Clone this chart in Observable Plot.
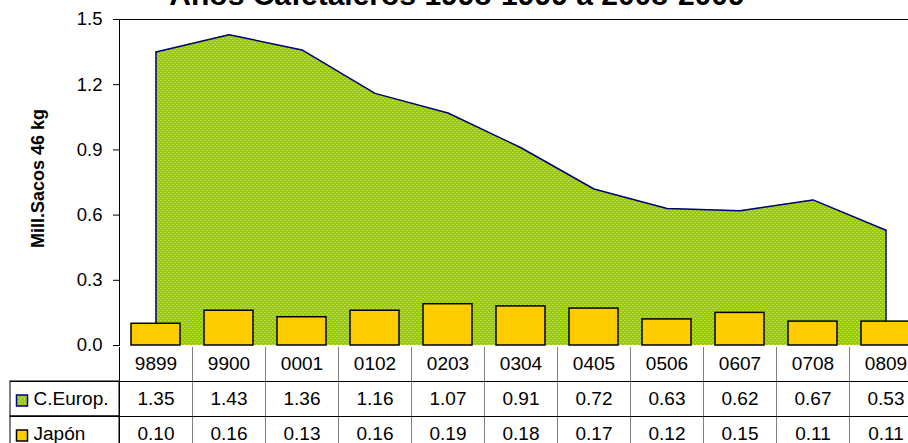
<!DOCTYPE html>
<html><head><meta charset="utf-8">
<script src="https://cdn.jsdelivr.net/npm/d3@7"></script>
<script src="https://cdn.jsdelivr.net/npm/@observablehq/plot@0.6"></script>
<style>
html,body{margin:0;padding:0;background:#fff;}
#wrap{position:relative;width:908px;height:443px;overflow:hidden;font-family:"Liberation Sans",Arial,sans-serif;}
#title{position:absolute;left:0;top:-20px;width:914px;text-align:center;font-weight:bold;font-size:30px;line-height:30px;white-space:nowrap;color:#000;}
#chart{position:absolute;left:0;top:0;}
#table{position:absolute;left:0;top:347px;}
#chart [aria-label^="y-axis"] text{font-size:18.5px;}
</style></head><body>
<div id="wrap"><div id="chart"></div><div id="table"></div><div id="title"></div></div>
<script>
const title = "Años Cafetaleros 1998-1999 a 2008-2009";
const yLabel = "Mill.Sacos 46 kg";
const categories = ["9899","9900","0001","0102","0203","0304","0405","0506","0607","0708","0809"];
const seriesNames = ["C.Europ.", "Japón"];
const europa = [1.35, 1.43, 1.36, 1.16, 1.07, 0.91, 0.72, 0.63, 0.62, 0.67, 0.53];
const japon  = [0.10, 0.16, 0.13, 0.16, 0.19, 0.18, 0.17, 0.12, 0.15, 0.11, 0.11];
const yTicks = [0, 0.3, 0.6, 0.9, 1.2, 1.5];

document.getElementById("title").textContent = title;

const font = '"Liberation Sans", Arial, sans-serif';
const data = categories.map((c, i) => ({cat: c, eu: europa[i], jp: japon[i]}));
const xRange = [119, 922];
const step = (xRange[1] - xRange[0]) / categories.length;
const green = "#99CC00", yellow = "#FFCC00", navy = "#000080";

const chart = Plot.plot({
  width: 908, height: 347, marginLeft: 119, marginRight: 0, marginTop: 19, marginBottom: 2,
  style: {fontFamily: font, fontSize: "18.5px", background: "transparent", color: "#000", overflow: "visible"},
  x: {type: "band", domain: categories, range: xRange, padding: 0, axis: null},
  y: {domain: [0, yTicks[yTicks.length - 1]], ticks: yTicks, tickFormat: d3.format(".1f"), tickSize: 6, tickPadding: 11, line: true, label: null},
  marks: [
    Plot.areaY(data, {x: "cat", y: "eu", fill: "url(#dots)"}),
    Plot.line(data, {x: "cat", y: "eu", stroke: navy, strokeWidth: 1.5}),
    Plot.ruleX([data[0], data[data.length - 1]], {x: "cat", y1: 0, y2: "eu", stroke: navy, strokeWidth: 1.5}),
    Plot.barY(data, {x: "cat", y: "jp", fill: yellow, stroke: "#000", strokeWidth: 1.5, insetLeft: 12, insetRight: 12}),
    Plot.ruleY([yTicks[yTicks.length - 1]], {stroke: "#000"}),
    Plot.text([yLabel], {frameAnchor: "left", textAnchor: "middle", dx: -81, dy: -4, rotate: -90, fontWeight: "bold", fontSize: 18, text: d => d})
  ]
});

const defs = d3.select(chart).insert("defs", ":first-child");
const pat = defs.append("pattern").attr("id", "dots").attr("width", 4).attr("height", 4).attr("patternUnits", "userSpaceOnUse");
pat.append("rect").attr("width", 4).attr("height", 4).attr("fill", green);
pat.append("rect").attr("x", 0).attr("y", 0).attr("width", 1).attr("height", 1).attr("fill", "#DDF0A0");
pat.append("rect").attr("x", 2).attr("y", 2).attr("width", 1).attr("height", 1).attr("fill", "#DDF0A0");
document.getElementById("chart").appendChild(chart);

const rowKeys = ["header", ...seriesNames];
const rowH = 35;
const cells = [];
categories.forEach((c, i) => {
  cells.push({cat: c, row: "header", text: c});
  cells.push({cat: c, row: seriesNames[0], text: europa[i].toFixed(2)});
  cells.push({cat: c, row: seriesNames[1], text: japon[i].toFixed(2)});
});

const table = Plot.plot({
  width: 908, height: 96, marginLeft: 10, marginRight: 0, marginTop: 0, marginBottom: 0,
  style: {fontFamily: font, fontSize: "19px", background: "transparent", color: "#000"},
  x: {type: "band", domain: categories, range: xRange, padding: 0, axis: null},
  y: {type: "band", domain: rowKeys, range: [-1, -1 + 3 * rowH], padding: 0, axis: null},
  marks: [
    Plot.ruleX(categories.slice(1), {x: d => d, dx: -step / 2, stroke: "#808080"}),
    Plot.ruleX(categories.slice(0, 1), {x: d => d, dx: -step / 2, stroke: "#000"}),
    Plot.cell(seriesNames, {x: () => categories[0], y: d => d, insetLeft: -(xRange[0] - 10), insetRight: step, stroke: "#000", fill: "none"}),
    Plot.ruleY(seriesNames, {y: d => d, dy: -rowH / 2, stroke: "#000"}),
    Plot.text(cells, {x: "cat", y: "row", text: "text", fontSize: 19}),
    Plot.text(seriesNames, {y: d => d, frameAnchor: "left", dx: 23, textAnchor: "start", text: d => d, fontSize: 19}),
    Plot.dot(seriesNames.slice(0, 1), {y: d => d, frameAnchor: "left", dx: 11.5, dy: 1.5, symbol: "square", r: 6.2, fill: "url(#dots)", stroke: navy, strokeWidth: 1.5}),
    Plot.dot(seriesNames.slice(1, 2), {y: d => d, frameAnchor: "left", dx: 11.5, dy: 1.5, symbol: "square", r: 6.2, fill: yellow, stroke: "#000", strokeWidth: 1.5})
  ]
});
document.getElementById("table").appendChild(table);
</script>
</body></html>
